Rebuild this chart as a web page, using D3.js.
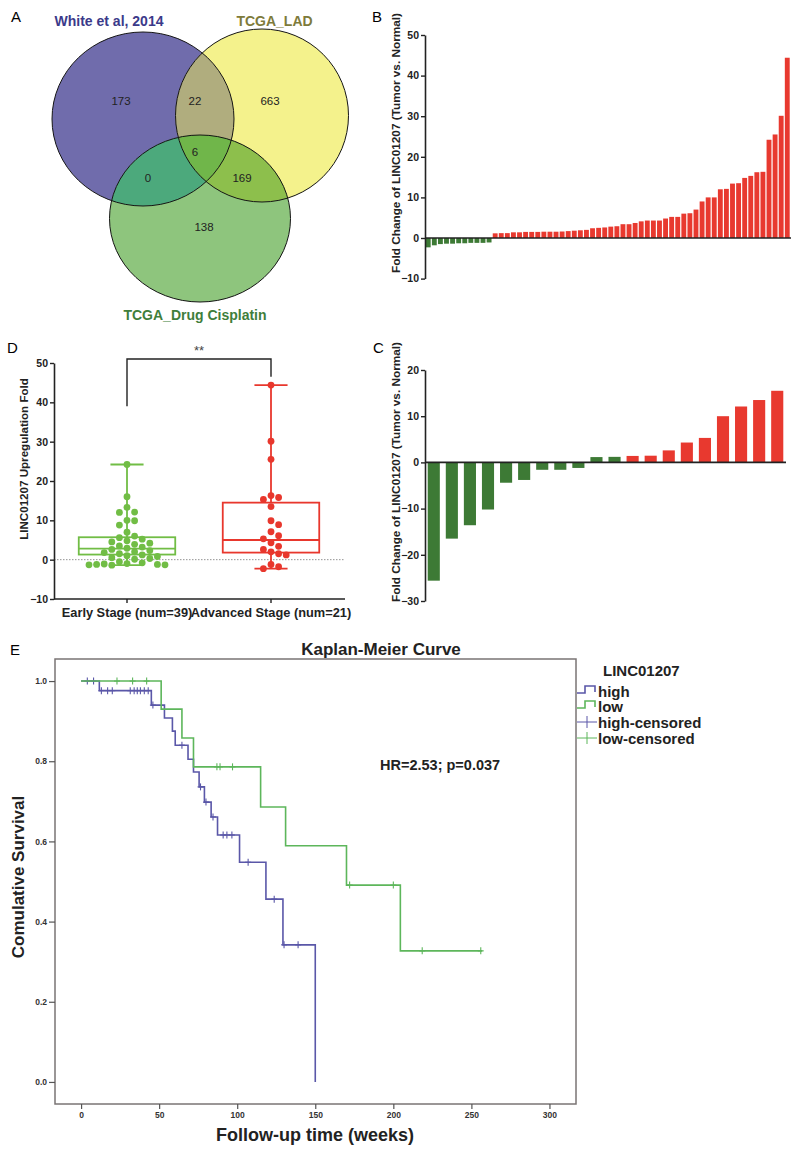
<!DOCTYPE html>
<html><head><meta charset="utf-8">
<script src="https://cdn.jsdelivr.net/npm/d3@7"></script>
<style>body{margin:0;background:#fff}svg{display:block}text{font-family:"Liberation Sans",Arial,sans-serif}</style>
</head><body><svg id="c" width="800" height="1152"></svg>
<script>
// ---------------- DATA ----------------
const vennSets = ["White et al, 2014", "TCGA_LAD", "TCGA_Drug Cisplatin"];
const vennRegions = ["A", "B", "C", "AB", "AC", "BC", "ABC"];
const vennCounts = [173, 663, 138, 22, 0, 169, 6];

const bValues = [-2.3,-1.8,-1.5,-1.4,-1.4,-1.3,-1.3,-1.2,-1.2,-1.2,-1.1,
  1.15,1.2,1.2,1.4,1.4,1.5,1.5,1.5,1.55,1.55,1.55,1.6,1.7,1.8,1.9,2.0,2.4,2.5,2.6,2.8,
  2.9,3.4,3.4,3.7,4.1,4.3,4.3,4.3,4.8,5.2,5.2,6.0,6.1,7.0,9.0,10.0,10.0,12.0,12.1,13.4,
  13.5,14.8,15.3,16.2,16.3,24.2,25.5,30.1,44.4];
const bTicks = [-10, 0, 10, 20, 30, 40, 50];

const cValues = [-25.6,-16.5,-13.6,-10.2,-4.4,-3.8,-1.6,-1.6,-1.2,1.15,1.2,1.4,1.45,2.6,4.3,5.3,10.0,12.1,13.5,15.5];
const cRegulation = ["down","down","down","down","down","down","down","down","down","down","down",
  "up","up","up","up","up","up","up","up","up"];
const cTicks = [-30, -20, -10, 0, 10, 20];

const dGroups = ["Early Stage (num=39)", "Advanced Stage (num=21)"];
const dEarly = [24.2,16.0,13.3,12.1,12.0,10.0,9.9,8.8,7.0,6.0,5.6,5.2,4.8,4.5,4.2,3.9,3.5,3.2,2.9,2.6,
  2.3,2.0,1.8,1.5,1.2,1.0,0.8,0.5,0.3,0.1,-0.5,-0.8,-1.0,-1.1,-1.2,-1.2,-1.3,-1.3,-1.4];
const dAdvanced = [44.4,30.1,25.5,16.3,15.8,15.3,13.5,9.9,8.9,7.1,6.1,5.3,4.3,3.4,2.6,2.0,1.5,1.2,-1.2,-1.8,-2.3];
// [min, q1, median, q3, max]
const dEarlyBox = [-1.4, 1.3, 2.8, 5.7, 24.2];
const dAdvancedBox = [-2.3, 1.8, 5.0, 14.5, 44.4];
const dTicks = [-10, 0, 10, 20, 30, 40, 50];

const kmHighTimes = [0, 11.7, 45, 53.4, 58.5, 60.3, 68.5, 72, 75.6, 79, 83.3, 87.4, 101.5, 118.4, 129.3, 150];
const kmHighSurv  = [1.0, 0.976, 0.940, 0.908, 0.875, 0.840, 0.805, 0.773, 0.736, 0.698, 0.661, 0.616, 0.548, 0.456, 0.342, 0.0];
const kmHighEnd = 150;
const kmHighCensor = [4, 8, 13, 17, 20, 31.5, 34, 36, 38, 40.5, 43, 46, 64.6, 76.5, 80, 84.5, 91, 93.4, 96.6, 107, 123.7, 130, 139];
const kmLowTimes = [0, 51.3, 64.6, 72, 115, 131, 170, 204.5];
const kmLowSurv  = [1.0, 0.930, 0.858, 0.786, 0.686, 0.589, 0.491, 0.327];
const kmLowEnd = 257;
const kmLowCensor = [23, 33, 42, 87, 89, 97, 172, 200, 218.5, 256];
const kmXTicks = [0, 50, 100, 150, 200, 250, 300];
const kmYTicks = [0, 0.2, 0.4, 0.6, 0.8, 1.0];
const kmLegend = ["high", "low", "high-censored", "low-censored"];

// ---------------- DRAW ----------------
const svg = d3.select("#c");
const BOLD = "bold";
function panelLabel(t, x, y) {
  svg.append("text").attr("x", x).attr("y", y).attr("font-size", 15).text(t);
}

// ===== Panel A : Venn =====
const ell = {
  A: {cx: 143, cy: 119, rx: 91, ry: 87, fill: "#706cac"},
  B: {cx: 262, cy: 115.5, rx: 86.5, ry: 86.5, fill: "#f4f28c"},
  C: {cx: 200, cy: 218.5, rx: 90.5, ry: 83.5, fill: "#8ec57d"}
};
const overlapFill = {AB: "#b0ad7e", AC: "#4ca97c", BC: "#8dbf4c", ABC: "#70b64a"};
const defs = svg.append("defs");
Object.entries(ell).forEach(([k, e]) => {
  defs.append("clipPath").attr("id", "clip" + k).append("ellipse")
    .attr("cx", e.cx).attr("cy", e.cy).attr("rx", e.rx).attr("ry", e.ry);
});
const gA = svg.append("g");
function ellipse(g, e) {
  return g.append("ellipse").attr("cx", e.cx).attr("cy", e.cy).attr("rx", e.rx).attr("ry", e.ry);
}
["A", "B", "C"].forEach(k => ellipse(gA, ell[k]).attr("fill", ell[k].fill));
ellipse(gA, ell.B).attr("fill", overlapFill.AB).attr("clip-path", "url(#clipA)");
ellipse(gA, ell.C).attr("fill", overlapFill.AC).attr("clip-path", "url(#clipA)");
ellipse(gA, ell.C).attr("fill", overlapFill.BC).attr("clip-path", "url(#clipB)");
ellipse(gA.append("g").attr("clip-path", "url(#clipB)"), ell.C).attr("fill", overlapFill.ABC).attr("clip-path", "url(#clipA)");
["A", "B", "C"].forEach(k => ellipse(gA, ell[k]).attr("fill", "none").attr("stroke", "#151515").attr("stroke-width", 1));
const vennLabelPos = {A: [121, 101], B: [270, 101], C: [204, 227], AB: [195, 101], AC: [148, 178], BC: [242, 178], ABC: [195, 152]};
vennRegions.forEach((r, i) => {
  gA.append("text").attr("x", vennLabelPos[r][0]).attr("y", vennLabelPos[r][1] + 4)
    .attr("text-anchor", "middle").attr("font-size", 11.5)
    .attr("font-family", "'Liberation Serif','Times New Roman',serif").attr("fill", "#222")
    .text(vennCounts[i]);
});
const vennTitle = [[109, 26, "#3b3a8a"], [274.5, 26, "#7e7b3b"], [195, 320, "#3f7e3b"]];
vennSets.forEach((s, i) => {
  gA.append("text").attr("x", vennTitle[i][0]).attr("y", vennTitle[i][1]).attr("text-anchor", "middle")
    .attr("font-weight", BOLD).attr("font-size", 14).attr("fill", vennTitle[i][2]).text(s);
});
panelLabel("A", 11, 22);

// ===== Panel B =====
const xB = d3.scaleBand().domain(d3.range(bValues.length)).range([425.5, 790]).paddingInner(0.2).paddingOuter(0.05);
const yB = d3.scaleLinear().domain([-10, 50]).range([278.6, 35]);
const gB = svg.append("g");
gB.selectAll("rect").data(bValues).join("rect")
  .attr("x", (d, i) => xB(i)).attr("width", xB.bandwidth())
  .attr("y", d => Math.min(yB(d), yB(0))).attr("height", d => Math.abs(yB(d) - yB(0)))
  .attr("fill", d => d < 0 ? "#3d7a35" : "#e8392f");
function styleAxis(g) {
  g.selectAll("path").attr("stroke", "#222").attr("stroke-width", 1.6);
  g.selectAll("line").attr("stroke", "#222").attr("stroke-width", 1.4);
  g.selectAll("text").attr("font-weight", BOLD).attr("font-size", 10.5).attr("fill", "#222")
    .attr("font-family", "'Liberation Sans',Arial,sans-serif");
}
gB.append("g").attr("transform", "translate(425,0)")
  .call(d3.axisLeft(yB).tickValues(bTicks).tickSize(4).tickSizeOuter(0).tickPadding(2))
  .call(styleAxis);
gB.append("line").attr("x1", 425).attr("x2", 791).attr("y1", yB(0)).attr("y2", yB(0))
  .attr("stroke", "#222").attr("stroke-width", 1.6);
gB.append("text").attr("transform", `translate(400,${143}) rotate(-90)`).attr("text-anchor", "middle")
  .attr("font-weight", BOLD).attr("font-size", 11.8).attr("fill", "#222")
  .text("Fold Change of LINC01207 (Tumor vs. Normal)");
panelLabel("B", 372, 22);

// ===== Panel C =====
const xC = d3.scaleBand().domain(d3.range(cValues.length)).range([425, 786]).paddingInner(0.33).paddingOuter(0.15);
const yC = d3.scaleLinear().domain([-30, 20]).range([601, 370]);
const gC = svg.append("g");
gC.selectAll("rect").data(cValues).join("rect")
  .attr("x", (d, i) => xC(i)).attr("width", xC.bandwidth())
  .attr("y", d => Math.min(yC(d), yC(0))).attr("height", d => Math.abs(yC(d) - yC(0)))
  .attr("fill", (d, i) => cRegulation[i] === "down" ? "#3d7a35" : "#e8392f");
gC.append("g").attr("transform", "translate(425,0)")
  .call(d3.axisLeft(yC).tickValues(cTicks).tickSize(4).tickSizeOuter(0).tickPadding(2))
  .call(styleAxis);
gC.append("line").attr("x1", 425).attr("x2", 786).attr("y1", yC(0)).attr("y2", yC(0))
  .attr("stroke", "#222").attr("stroke-width", 1.6);
gC.append("text").attr("transform", `translate(400,${472}) rotate(-90)`).attr("text-anchor", "middle")
  .attr("font-weight", BOLD).attr("font-size", 11.8).attr("fill", "#222")
  .text("Fold Change of LINC01207 (Tumor vs. Normal)");
panelLabel("C", 373, 353);

// ===== Panel D =====
const xD = d3.scaleBand().domain(dGroups).range([55, 343]);
const yD = d3.scaleLinear().domain([-10, 50]).range([599, 363]);
const gD = svg.append("g");
gD.append("line").attr("x1", 54).attr("x2", 345).attr("y1", yD(0)).attr("y2", yD(0))
  .attr("stroke", "#777").attr("stroke-width", 0.8).attr("stroke-dasharray", "1.5,1.5");
gD.append("g").attr("transform", "translate(54,0)")
  .call(d3.axisLeft(yD).tickValues(dTicks).tickSize(4).tickSizeOuter(0).tickPadding(2))
  .call(styleAxis);
gD.append("g").attr("transform", `translate(0,${yD(-10)})`)
  .call(d3.axisBottom(xD).tickSize(4).tickSizeOuter(0).tickPadding(5))
  .call(g => { g.select(".domain").attr("d", "M54,0H345"); })
  .call(styleAxis)
  .call(g => g.selectAll("text").attr("font-size", 12.8));
function swarm(values, r) {
  const placed = [];
  values.slice().sort((a, b) => b - a).forEach(v => {
    const py = yD(v);
    let off = 0;
    for (let s = 0; s < 60; s++) {
      off = s === 0 ? 0 : Math.ceil(s / 2) * (s % 2 ? 1 : -1) * (2 * r + 0.8);
      if (placed.every(q => (q.x - off) ** 2 + (q.y - py) ** 2 >= (2 * r + 0.4) ** 2)) break;
    }
    placed.push({x: off, y: py});
  });
  return placed;
}
const dColors = ["#71bd45", "#e8372d"];
[[dEarly, dEarlyBox], [dAdvanced, dAdvancedBox]].forEach(([pts, box], gi) => {
  const cx = xD(dGroups[gi]) + xD.bandwidth() / 2;
  const bw = xD.bandwidth() * 0.67, cw = xD.bandwidth() * 0.23;
  const col = dColors[gi];
  const g = gD.append("g").attr("stroke", col).attr("stroke-width", 1.8).attr("fill", "none");
  g.append("line").attr("x1", cx).attr("x2", cx).attr("y1", yD(box[0])).attr("y2", yD(box[1]));
  g.append("line").attr("x1", cx).attr("x2", cx).attr("y1", yD(box[3])).attr("y2", yD(box[4]));
  g.append("line").attr("x1", cx - cw / 2).attr("x2", cx + cw / 2).attr("y1", yD(box[0])).attr("y2", yD(box[0]));
  g.append("line").attr("x1", cx - cw / 2).attr("x2", cx + cw / 2).attr("y1", yD(box[4])).attr("y2", yD(box[4]));
  g.append("rect").attr("x", cx - bw / 2).attr("width", bw).attr("y", yD(box[3])).attr("height", yD(box[1]) - yD(box[3]));
  g.append("line").attr("x1", cx - bw / 2).attr("x2", cx + bw / 2).attr("y1", yD(box[2])).attr("y2", yD(box[2]));
  gD.append("g").selectAll("circle").data(swarm(pts, 3.4)).join("circle")
    .attr("cx", d => cx + d.x).attr("cy", d => d.y).attr("r", 3.4).attr("fill", col);
});
const c0 = xD(dGroups[0]) + xD.bandwidth() / 2, c1 = xD(dGroups[1]) + xD.bandwidth() / 2;
gD.append("path").attr("d", `M${c0},${yD(39)}V${yD(51)}H${c1}V${yD(46.5)}`)
  .attr("fill", "none").attr("stroke", "#222").attr("stroke-width", 1.4);
gD.append("text").attr("x", (c0 + c1) / 2).attr("y", yD(51) - 4).attr("text-anchor", "middle")
  .attr("font-size", 13).attr("fill", "#444").text("**");
gD.append("text").attr("transform", `translate(28,${459}) rotate(-90)`).attr("text-anchor", "middle")
  .attr("font-weight", BOLD).attr("font-size", 11.6).attr("fill", "#222").text("LINC01207 Upregulation Fold");
panelLabel("D", 7, 353);

// ===== Panel E : Kaplan-Meier =====
const xE = d3.scaleLinear().domain([-16.7, 317]).range([55, 576]);
const yE = d3.scaleLinear().domain([-0.055, 1.055]).range([1104, 659]);
const gE = svg.append("g");
gE.append("rect").attr("x", 55).attr("y", 659).attr("width", 521).attr("height", 445)
  .attr("fill", "none").attr("stroke", "#7a7474").attr("stroke-width", 1.5);
function kmAxisStyle(g) {
  g.select(".domain").remove();
  g.selectAll("line").attr("stroke", "#555").attr("stroke-width", 1.2);
  g.selectAll("text").attr("font-weight", BOLD).attr("font-size", 8.5).attr("fill", "#333")
    .attr("font-family", "'Liberation Sans',Arial,sans-serif");
}
gE.append("g").attr("transform", "translate(55,0)")
  .call(d3.axisLeft(yE).tickValues(kmYTicks).tickFormat(d3.format(".1f")).tickSize(6).tickPadding(2))
  .call(kmAxisStyle);
gE.append("g").attr("transform", "translate(0,1104)")
  .call(d3.axisBottom(xE).tickValues(kmXTicks).tickSize(5).tickPadding(3))
  .call(kmAxisStyle);
const kmLine = d3.line().x(d => xE(d[0])).y(d => yE(d[1])).curve(d3.curveStepAfter);
const kmSeries = [
  {times: kmHighTimes, surv: kmHighSurv, end: kmHighEnd, cens: kmHighCensor, color: "#5a57a8"},
  {times: kmLowTimes, surv: kmLowSurv, end: kmLowEnd, cens: kmLowCensor, color: "#5db65b"}
];
kmSeries.forEach(s => {
  const pts = s.times.map((t, i) => [t, s.surv[i]]);
  if (s.end > s.times[s.times.length - 1]) pts.push([s.end, s.surv[s.surv.length - 1]]);
  gE.append("path").attr("d", kmLine(pts)).attr("fill", "none").attr("stroke", s.color).attr("stroke-width", 1.6);
  const g = gE.append("g").attr("stroke", s.color).attr("stroke-width", 1.1);
  s.cens.forEach(t => {
    const i = d3.bisectRight(s.times, t) - 1;
    const x = xE(t), y = yE(s.surv[i]);
    g.append("line").attr("x1", x).attr("x2", x).attr("y1", y - 3.5).attr("y2", y + 3.5);
    g.append("line").attr("x1", x - 3).attr("x2", x + 3).attr("y1", y).attr("y2", y);
  });
});
gE.append("text").attr("x", 381).attr("y", 655).attr("text-anchor", "middle")
  .attr("font-weight", BOLD).attr("font-size", 17).attr("fill", "#222").text("Kaplan-Meier Curve");
gE.append("text").attr("x", 380).attr("y", 770).attr("font-weight", BOLD).attr("font-size", 14.5)
  .attr("fill", "#222").text("HR=2.53; p=0.037");
gE.append("text").attr("x", 315).attr("y", 1141).attr("text-anchor", "middle")
  .attr("font-weight", BOLD).attr("font-size", 18).attr("fill", "#222").text("Follow-up time (weeks)");
gE.append("text").attr("transform", `translate(24,${877}) rotate(-90)`).attr("text-anchor", "middle")
  .attr("font-weight", BOLD).attr("font-size", 17).attr("fill", "#222").text("Comulative Survival");
// legend
gE.append("text").attr("x", 603).attr("y", 676).attr("font-weight", BOLD).attr("font-size", 15)
  .attr("fill", "#222").text("LINC01207");
const legY = [697, 712, 728, 744];
const legColors = [kmSeries[0].color, kmSeries[1].color, kmSeries[0].color, kmSeries[1].color];
kmLegend.forEach((name, i) => {
  const y = legY[i];
  const c = legColors[i];
  if (i < 2) {
    gE.append("path").attr("d", `M577,${y - 4}H585V${y - 11}H595V${y - 5}`)
      .attr("fill", "none").attr("stroke", c).attr("stroke-width", 1.6);
  } else {
    gE.append("line").attr("x1", 577).attr("x2", 597).attr("y1", y - 6).attr("y2", y - 6).attr("stroke", c).attr("stroke-width", 1);
    gE.append("line").attr("x1", 587).attr("x2", 587).attr("y1", y - 12).attr("y2", y).attr("stroke", c).attr("stroke-width", 1);
  }
  gE.append("text").attr("x", 598).attr("y", y).attr("font-weight", BOLD).attr("font-size", 15)
    .attr("fill", "#222").text(name);
});
panelLabel("E", 10, 655);
</script></body></html>
